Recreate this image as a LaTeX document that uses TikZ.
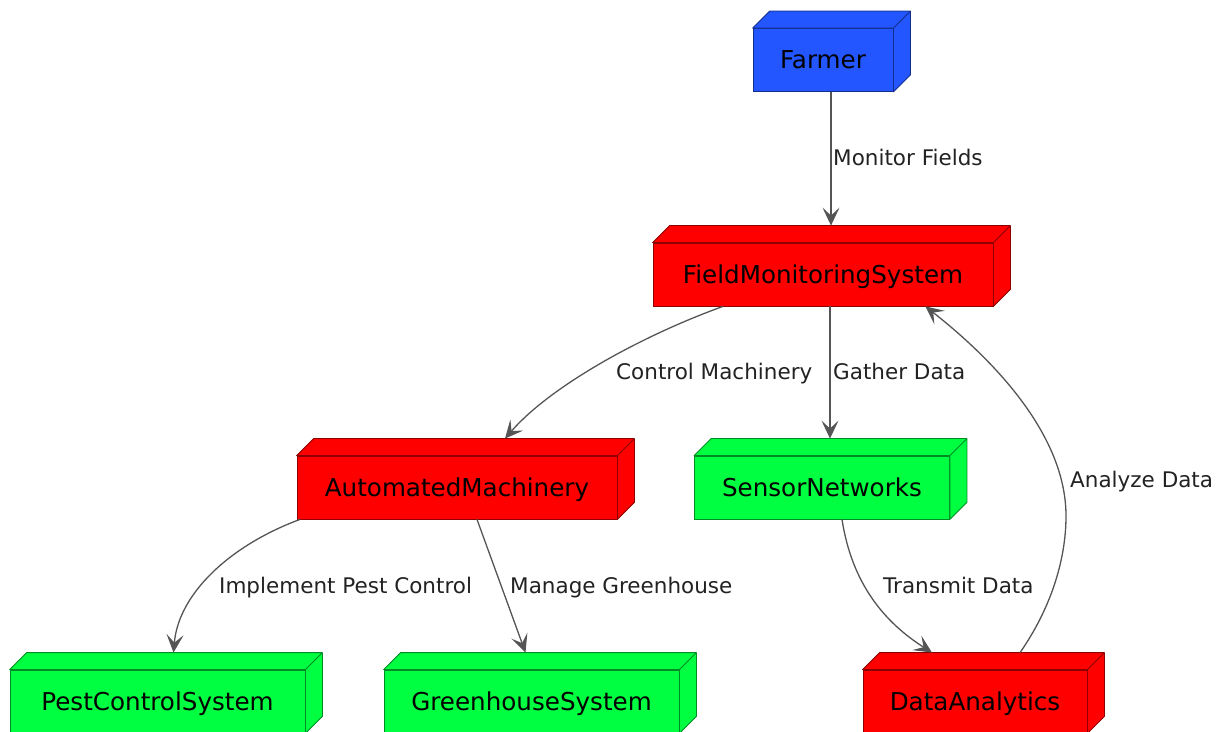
\documentclass[tikz,border=0pt]{standalone}
\usepackage{fontspec}
\setmainfont{DejaVu Sans}
\usetikzlibrary{arrows.meta}

\definecolor{farmerblue}{HTML}{2356FF}
\definecolor{sysred}{HTML}{FF0000}
\definecolor{sysgreen}{HTML}{00FF40}
\definecolor{linkgray}{HTML}{555555}
\definecolor{labelgray}{HTML}{222222}

\tikzset{
    box/.style={draw=#1!55!black, fill=#1, line width=0.8pt, minimum height=63pt,
        inner sep=0pt, text height=18pt, text depth=0pt,
        font=\fontsize{24.6}{29}\selectfont},
    link/.style={draw=linkgray, line width=1.3pt,
        -{Stealth[length=18pt, width=17pt, inset=8pt]}},
    linklabel/.style={anchor=base west, inner sep=0pt, text=labelgray,
        font=\fontsize{21.5}{25}\selectfont}
}

\begin{document}
\begin{tikzpicture}[x=1pt, y=1pt]
    \useasboundingbox (0,0) rectangle (1220,731);
    % boxes (front faces)
    \node[box=farmerblue, minimum width=140pt] (farmer) at (823,671) {Farmer};
    \node[box=sysred, minimum width=340pt] (fms) at (823,456.5) {FieldMonitoringSystem};
    \node[box=sysred, minimum width=320pt] (am) at (457,243.5) {AutomatedMachinery};
    \node[box=sysgreen, minimum width=255pt] (sn) at (822,243.5) {SensorNetworks};
    \node[box=sysgreen, minimum width=295pt] (pcs) at (157.5,29.5) {PestControlSystem};
    \node[box=sysgreen, minimum width=295pt] (ghs) at (531.5,29.5) {GreenhouseSystem};
    \node[box=sysred, minimum width=224pt] (da) at (975,29.5) {DataAnalytics};
    % top and side faces
    \foreach \n/\c in {farmer/farmerblue, fms/sysred, am/sysred, sn/sysgreen,
                       pcs/sysgreen, ghs/sysgreen, da/sysred} {
        \draw[fill=\c, draw=\c!55!black, line width=0.8pt, line join=round]
            (\n.north west) -- ++(17,17) -| ([shift={(17,17)}]\n.south east)
            -- (\n.south east) -- (\n.north east) -- cycle
            (\n.north east) -- ++(17,17);
    }
    % links
    \coordinate (anabend) at (1066,215);
    \draw[link] ([xshift=8pt]farmer.south) -- ([shift={(8,17)}]fms.north);
    \draw[link] ([xshift=-100pt]fms.south) .. controls +(-83,-30) and +(45,52) .. ([shift={(48,17)}]am.north);
    \draw[link] ([xshift=7pt]fms.south) -- ([shift={(8,17)}]sn.north);
    \draw[link] ([shift={(45,17)}]da.north) .. controls +(30,43) and +(0,-45) .. (anabend)
        .. controls +(0,80) and +(70,-55) .. ([xshift=-68pt]fms.south east);
    \draw[link] ([xshift=-157pt]am.south) .. controls +(-70,-26) and +(5,59) .. ([shift={(16,17)}]pcs.north);
    \draw[link] ([xshift=20pt]am.south) -- ([shift={(-6,17)}]ghs.north);
    \draw[link] ([xshift=20pt]sn.south) .. controls +(10,-65) and +(-47,30) .. ([shift={(-43,17)}]da.north);
    % labels
    \node[linklabel] (lblmonitor) at (833,565) {Monitor Fields};
    \node[linklabel] (lblcontrol) at (616,351) {Control Machinery};
    \node[linklabel] (lblgather) at (833,351) {Gather Data};
    \node[linklabel] (lblanalyze) at (1070,243) {Analyze Data};
    \node[linklabel] (lblpest) at (219,138) {Implement Pest Control};
    \node[linklabel] (lblgreen) at (510,138) {Manage Greenhouse};
    \node[linklabel] (lbltransmit) at (883,138) {Transmit Data};
\end{tikzpicture}
\end{document}
